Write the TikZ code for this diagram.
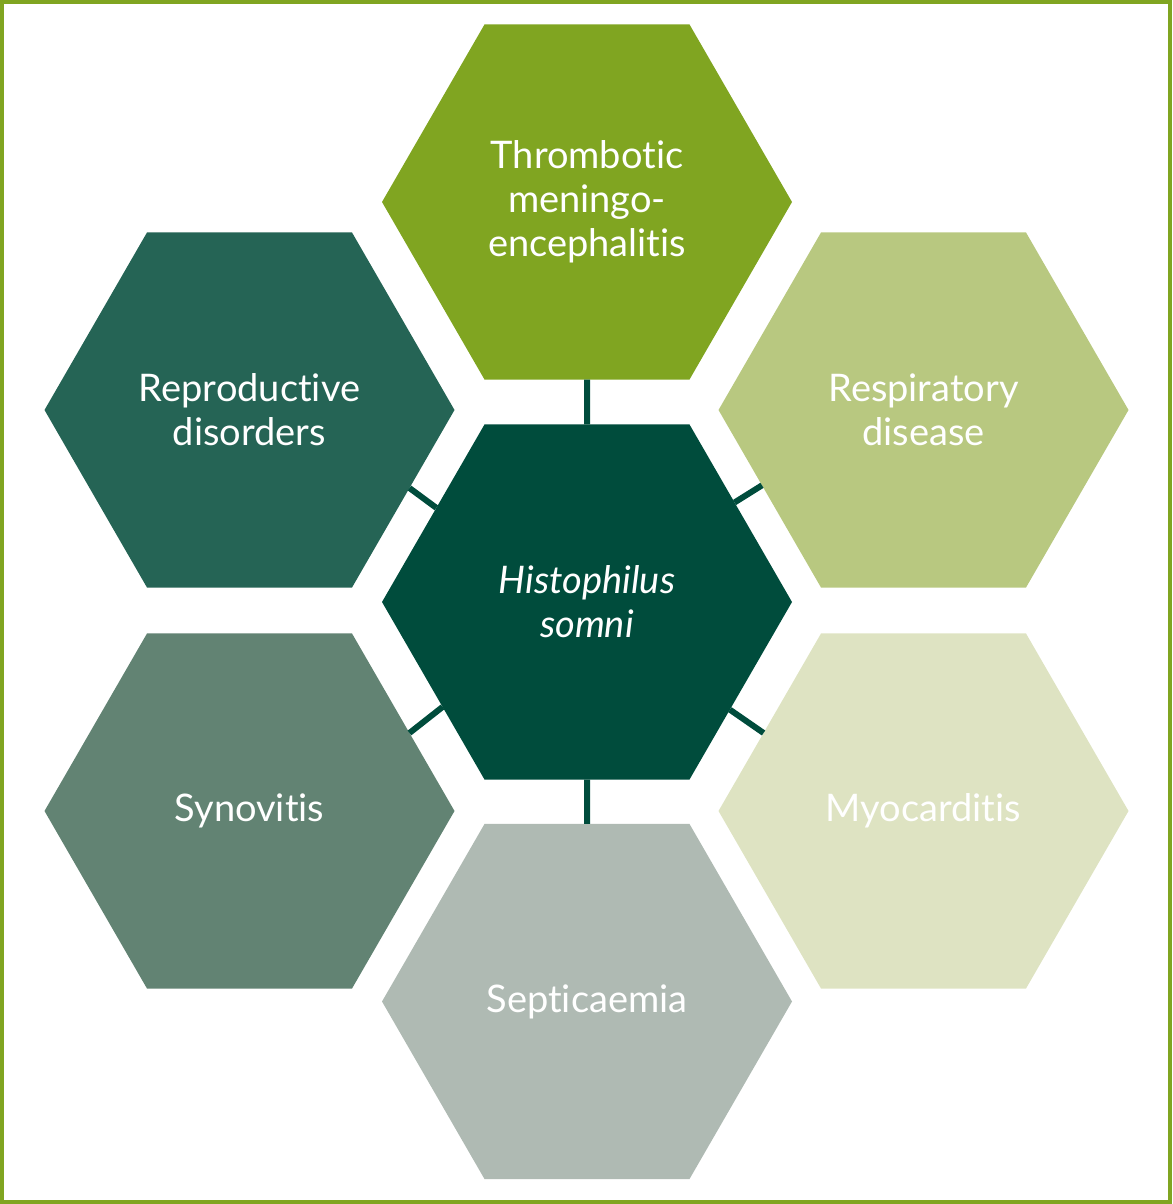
\documentclass[tikz,border=0pt]{standalone}
\usepackage{fontspec}
\setmainfont{Lato}[Ligatures={NoCommon}]
\usetikzlibrary{shapes.geometric}

\definecolor{hsframe}{HTML}{80A521}
\definecolor{hsdark}{HTML}{004C3C}
\definecolor{hsolive}{HTML}{80A521}
\definecolor{hsrepro}{HTML}{256455}
\definecolor{hsresp}{HTML}{B8C880}
\definecolor{hssyn}{HTML}{628373}
\definecolor{hsmyo}{HTML}{DEE3C2}
\definecolor{hssep}{HTML}{AFBAB3}

\begin{document}
\begin{tikzpicture}[x=10pt,y=10pt]
            \tikzstyle{hex}=[regular polygon, regular polygon sides=6, minimum size=410pt,
                inner sep=0pt, outer sep=0pt, text=white, align=center,
                font=\fontsize{38}{44}\selectfont]
            \tikzstyle{link}=[hsdark, line width=6pt]
            \useasboundingbox (0,0) rectangle (117.2,-120.4);
            \draw [hsframe, line width=4pt] (0.2,-0.2) rectangle (117.0,-120.2);
            \node [hex, fill=hsdark] (hs) at (58.7,-60.2) {\itshape Histophilus\\\itshape somni};
            \node [hex, fill=hsolive] (tme) at (58.7,-20.2) {Thrombotic\\meningo-\\encephalitis};
            \node [hex, fill=hsrepro] (repro) at (24.95,-41.0) {Reproductive\\disorders};
            \node [hex, fill=hsresp] (resp) at (92.35,-41.0) {Respiratory\\disease};
            \node [hex, fill=hssyn] (syn) at (24.95,-81.1) {Synovitis};
            \node [hex, fill=hsmyo] (myo) at (92.35,-81.1) {Myocarditis};
            \node [hex, fill=hssep] (sep) at (58.7,-100.15) {Septicaemia};
            \draw [link] (hs) -- (tme);
            \draw [link] (hs) -- (sep);
            \foreach \n/\a/\b in {repro/148/-26, resp/34/205, syn/216/26, myo/-37/154}
                \draw [link] (hs.\a) -- (\n.\b);
\end{tikzpicture}
\end{document}
